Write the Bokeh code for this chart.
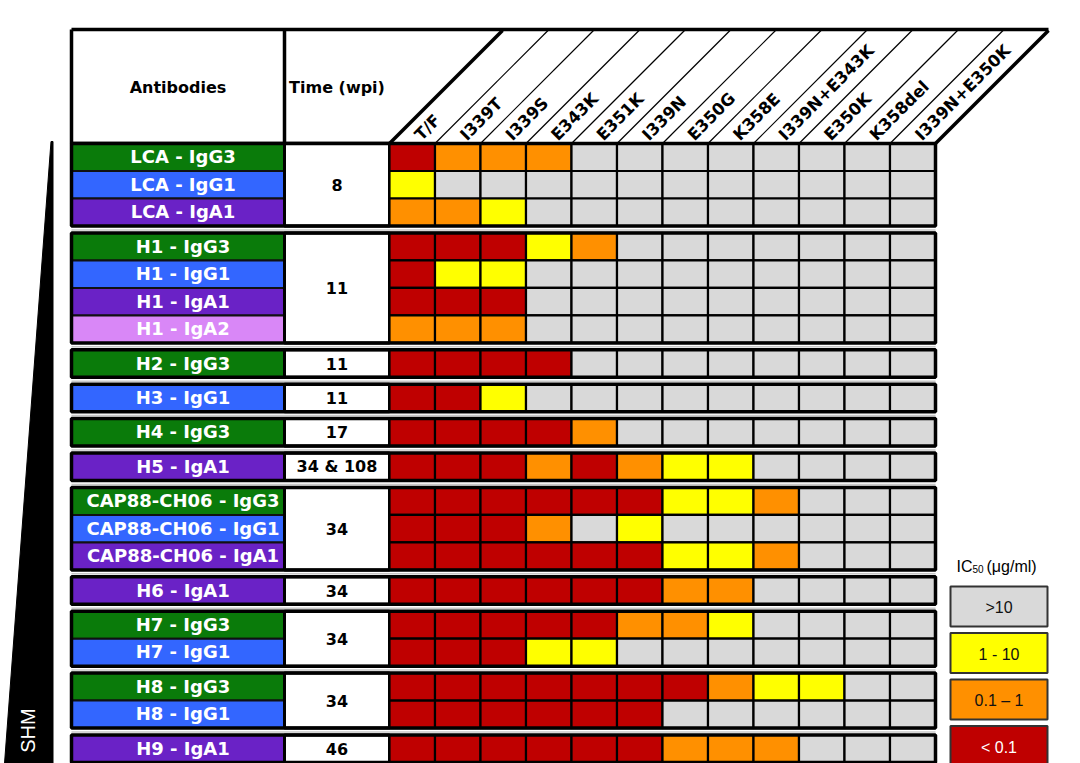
import numpy as np
from bokeh.plotting import figure
from bokeh.models import Range1d, ColumnDataSource
from bokeh.core.properties import value
from bokeh.embed import file_html
from bokeh.resources import INLINE

# ---------------- data ----------------
mutations = ["T/F", "I339T", "I339S", "E343K", "E351K", "I339N", "E350G",
             "K358E", "I339N+E343K", "E350K", "K358del", "I339N+E350K"]

antibodies = ["LCA - IgG3", "LCA - IgG1", "LCA - IgA1",
              "H1 - IgG3", "H1 - IgG1", "H1 - IgA1", "H1 - IgA2",
              "H2 - IgG3", "H3 - IgG1", "H4 - IgG3", "H5 - IgA1",
              "CAP88-CH06 - IgG3", "CAP88-CH06 - IgG1", "CAP88-CH06 - IgA1",
              "H6 - IgA1", "H7 - IgG3", "H7 - IgG1", "H8 - IgG3", "H8 - IgG1",
              "H9 - IgA1"]
isotypes = ["IgG3", "IgG1", "IgA1", "IgG3", "IgG1", "IgA1", "IgA2",
            "IgG3", "IgG1", "IgG3", "IgA1", "IgG3", "IgG1", "IgA1",
            "IgA1", "IgG3", "IgG1", "IgG3", "IgG1", "IgA1"]

group_sizes = [3, 4, 1, 1, 1, 1, 3, 1, 2, 2, 1]
times_wpi = ["8", "11", "11", "11", "17", "34 & 108", "34", "34", "34", "34", "46"]

# IC50 class per cell: 0 = >10, 1 = 1-10, 2 = 0.1-1, 3 = <0.1
ic50_class = [
    [3, 2, 2, 2, 0, 0, 0, 0, 0, 0, 0, 0],
    [1, 0, 0, 0, 0, 0, 0, 0, 0, 0, 0, 0],
    [2, 2, 1, 0, 0, 0, 0, 0, 0, 0, 0, 0],
    [3, 3, 3, 1, 2, 0, 0, 0, 0, 0, 0, 0],
    [3, 1, 1, 0, 0, 0, 0, 0, 0, 0, 0, 0],
    [3, 3, 3, 0, 0, 0, 0, 0, 0, 0, 0, 0],
    [2, 2, 2, 0, 0, 0, 0, 0, 0, 0, 0, 0],
    [3, 3, 3, 3, 0, 0, 0, 0, 0, 0, 0, 0],
    [3, 3, 1, 0, 0, 0, 0, 0, 0, 0, 0, 0],
    [3, 3, 3, 3, 2, 0, 0, 0, 0, 0, 0, 0],
    [3, 3, 3, 2, 3, 2, 1, 1, 0, 0, 0, 0],
    [3, 3, 3, 3, 3, 3, 1, 1, 2, 0, 0, 0],
    [3, 3, 3, 2, 0, 1, 0, 0, 0, 0, 0, 0],
    [3, 3, 3, 3, 3, 3, 1, 1, 2, 0, 0, 0],
    [3, 3, 3, 3, 3, 3, 2, 2, 0, 0, 0, 0],
    [3, 3, 3, 3, 3, 2, 2, 1, 0, 0, 0, 0],
    [3, 3, 3, 1, 1, 0, 0, 0, 0, 0, 0, 0],
    [3, 3, 3, 3, 3, 3, 3, 2, 1, 1, 0, 0],
    [3, 3, 3, 3, 3, 3, 0, 0, 0, 0, 0, 0],
    [3, 3, 3, 3, 3, 3, 2, 2, 2, 0, 0, 0],
]

legend_labels = [">10", "1 - 10", "0.1 \u2013 1", "< 0.1"]

# ---------------- styles ----------------
class_colors = ["#D9D9D9", "#FFFF00", "#FF9000", "#BF0000"]
legend_text_colors = ["#111111", "#111111", "#111111", "#FFFFFF"]
iso_colors = {"IgG3": "#0A7B0A", "IgG1": "#3366FF", "IgA1": "#6A22C6", "IgA2": "#D987F7"}
BOLD = value("DejaVu Sans")
REG = value("Liberation Sans")

# ---------------- layout ----------------
X0, XL, XT = 71, 284, 389          # table left, label col right, time col right
CW = 45.5                          # grid column width
Y0, RH, GAP = 143, 27.5, 6.9       # first row top, row height, gap between groups
HTOP = 29                          # header top
ncol = len(mutations)
XR = XT + ncol * CW

p = figure(width=1080, height=763, x_range=Range1d(0, 1080), y_range=Range1d(763, 0),
           output_backend="svg", toolbar_location=None, min_border=0,
           x_axis_location=None, y_axis_location=None)
p.grid.visible = False
p.outline_line_color = None
p.background_fill_color = "white"
p.border_fill_color = "white"

# row positions
row_top = []
group_top, group_bot = [], []
r = 0
for g, n in enumerate(group_sizes):
    t = Y0 + r * RH + g * GAP
    group_top.append(t)
    group_bot.append(t + n * RH)
    for k in range(n):
        row_top.append(t + k * RH)
    r += n
row_top = np.array(row_top)

# SHM wedge
p.patch([50.5, 52.5, 52.5, 4], [141, 141, 763, 763], fill_color="black", line_color="black")
p.text(x=[27], y=[730], text=["SHM"], angle=np.pi / 2, text_font=REG, text_font_size="20px",
       text_color="white", text_align="center", text_baseline="middle")

# header
p.segment(x0=[X0], y0=[HTOP], x1=[XR + 113], y1=[HTOP], line_color="black", line_width=3.5)
p.segment(x0=[X0, XL], y0=[HTOP, HTOP], x1=[X0, XL], y1=[Y0, Y0], line_color="black", line_width=3.5)
p.segment(x0=[X0], y0=[Y0], x1=[XT], y1=[Y0], line_color="black", line_width=3.5)
bx = XT + np.arange(ncol + 1) * CW
widths = [3.5] + [1.2] * (ncol - 1) + [3.5]
p.segment(x0=bx, y0=[Y0] * len(bx), x1=bx + (Y0 - HTOP - 1), y1=[HTOP + 1] * len(bx),
          line_color="black", line_width=widths)
p.text(x=[(X0 + XL) / 2], y=[87], text=["Antibodies"], text_font=BOLD, text_font_style="bold",
       text_font_size="16px", text_align="center", text_baseline="middle", text_color="black")
p.text(x=[(XL + XT) / 2], y=[87], text=["Time (wpi)"], text_font=BOLD, text_font_style="bold",
       text_font_size="16px", text_align="center", text_baseline="middle", text_color="black")
p.text(x=bx[:-1] + 28, y=[137] * ncol, text=mutations, angle=np.pi / 4, text_font=BOLD,
       text_font_style="bold", text_font_size="16.5px", text_align="left",
       text_baseline="alphabetic", text_color="black")

# faint separator above groups
p.segment(x0=[X0] * (len(group_top) - 1), y0=np.array(group_top[1:]) - 3,
          x1=[XR] * (len(group_top) - 1), y1=np.array(group_top[1:]) - 3,
          line_color="#C8C8C8", line_width=1.5)

# label cells
p.quad(left=X0, right=XL, top=row_top, bottom=row_top + RH,
       fill_color=[iso_colors[i] for i in isotypes], line_color="#111111", line_width=2)
p.text(x=[(X0 + XL) / 2 + 5] * len(antibodies), y=row_top + RH / 2 - 0.5, text=antibodies,
       text_font=BOLD, text_font_style="bold", text_font_size="18px", text_color="white",
       text_align="center", text_baseline="middle")

# time cells
gt, gb = np.array(group_top), np.array(group_bot)
p.quad(left=XL, right=XT, top=gt, bottom=gb, fill_color="white", line_color="black", line_width=3)
p.text(x=[(XL + XT) / 2] * len(times_wpi), y=(gt + gb) / 2, text=times_wpi, text_font=BOLD,
       text_font_style="bold", text_font_size="16px", text_color="black",
       text_align="center", text_baseline="middle")

# grid cells
cls = np.array(ic50_class)
ri, ci = np.meshgrid(np.arange(len(antibodies)), np.arange(ncol), indexing="ij")
src = ColumnDataSource(dict(
    left=XT + ci.ravel() * CW, right=XT + (ci.ravel() + 1) * CW,
    top=row_top[ri.ravel()], bottom=row_top[ri.ravel()] + RH,
    color=[class_colors[c] for c in cls.ravel()]))
p.quad(left="left", right="right", top="top", bottom="bottom", fill_color="color",
       line_color="black", line_width=2.2, source=src)

# group outer borders
p.quad(left=X0, right=XR, top=gt, bottom=gb, fill_color=None, line_color="black", line_width=3.5)

# legend
LX0, LX1, LY0, LH, LSTEP = 950, 1047, 586, 40, 46.5
ly = LY0 + np.arange(4) * LSTEP
p.quad(left=LX0, right=LX1, top=ly, bottom=ly + LH, fill_color=class_colors,
       line_color="#333333", line_width=2)
p.text(x=[(LX0 + LX1) / 2] * 4, y=ly + LH / 2 + 1, text=legend_labels, text_font=REG,
       text_font_size="16px", text_color=legend_text_colors, text_align="center",
       text_baseline="middle")
p.text(x=[956], y=[566], text=["IC"], text_font=REG, text_font_size="16px",
       text_align="left", text_baseline="middle", text_color="black")
p.text(x=[972], y=[568], text=["50"], text_font=REG, text_font_size="10px",
       text_align="left", text_baseline="middle", text_color="black")
p.text(x=[986], y=[566], text=["(\u03bcg/ml)"], text_font=REG, text_font_size="16px",
       text_align="left", text_baseline="middle", text_color="black")

open("out.html", "w").write(file_html(p, INLINE))
